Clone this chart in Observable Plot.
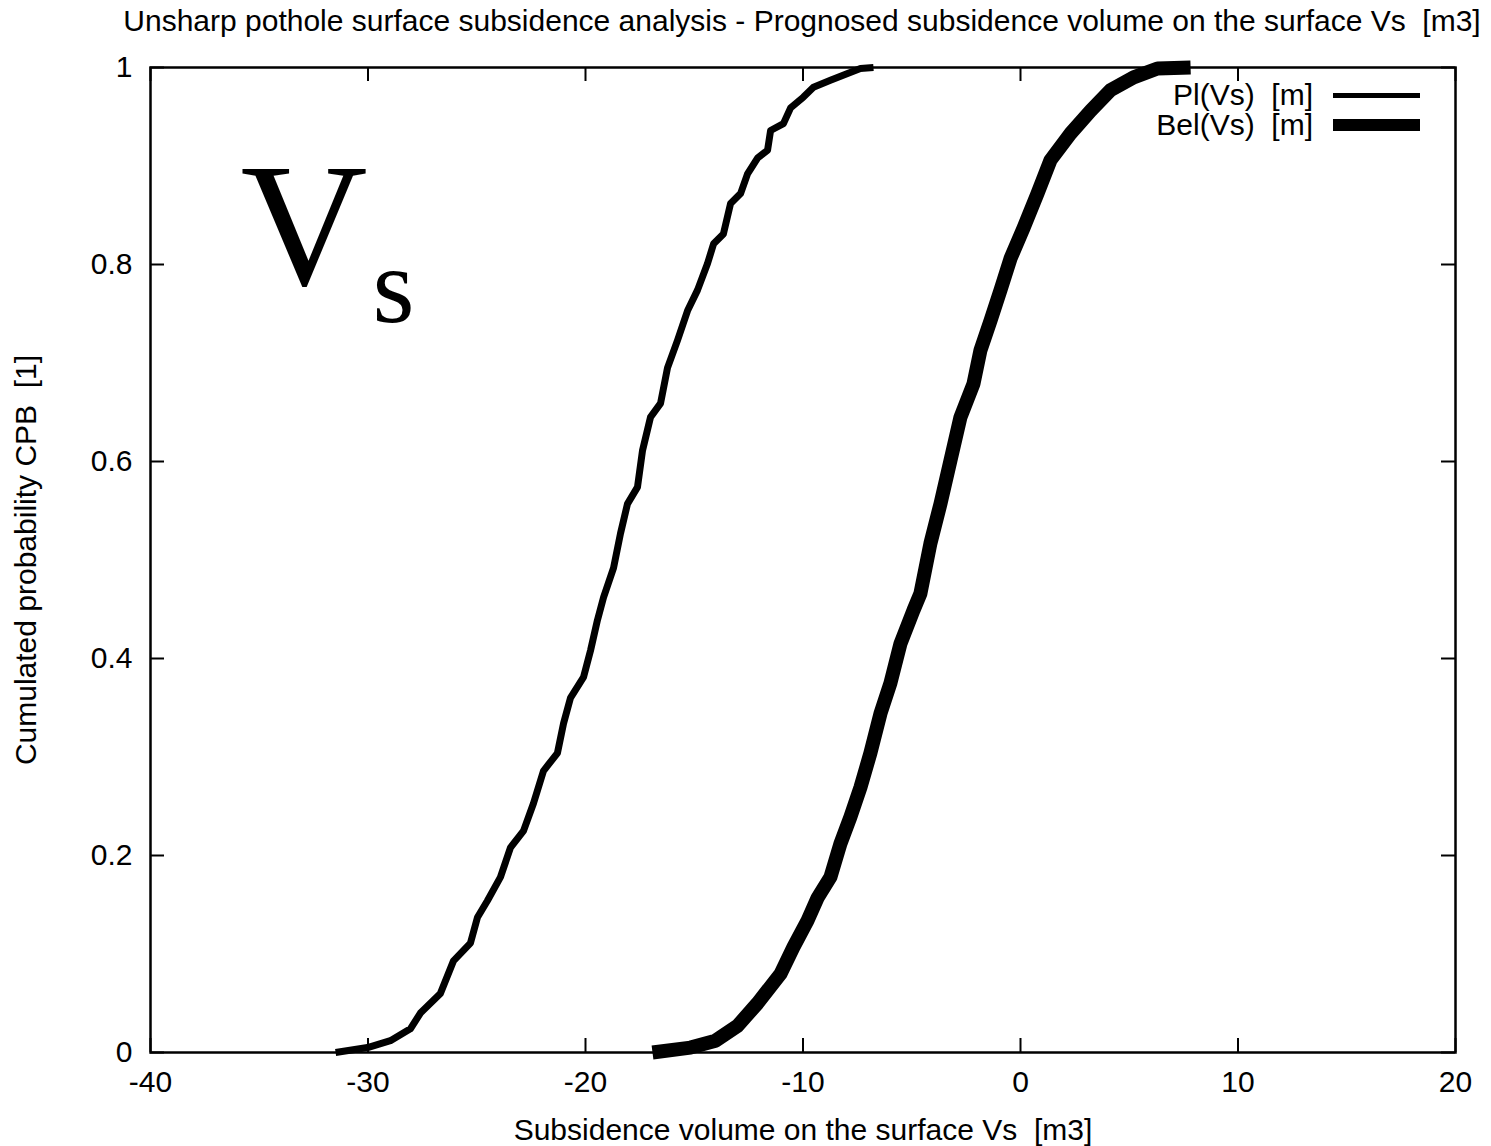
<!DOCTYPE html>
<html>
<head>
<meta charset="utf-8">
<script src="https://cdn.jsdelivr.net/npm/d3@7"></script>
<script src="https://cdn.jsdelivr.net/npm/@observablehq/plot@0.6"></script>
<style>
  html, body { margin: 0; padding: 0; background: #fff; }
  #wrap { position: relative; width: 1491px; height: 1146px; font-family: "Liberation Sans", Arial, sans-serif; color: #000; }
  #title { position: absolute; left: 802px; top: 6px; transform: translateX(-50%); white-space: pre; font-size: 30px; line-height: 30px; }
  #legend { position: absolute; top: 80px; right: 71px; font-size: 30px; }
  .row { display: flex; align-items: center; justify-content: flex-end; height: 30px; }
  .row span { white-space: pre; line-height: 30px; }
  .sw { width: 87px; margin-left: 20px; background: #000; }
</style>
</head>
<body>
<div id="wrap">
  <div id="chart"></div>
  <div id="title"></div>
  <div id="legend"></div>
</div>
<script>
// ---- data ----
const titleText = "Unsharp pothole surface subsidence analysis - Prognosed subsidence volume on the surface Vs  [m3]";
const xLabel = "Subsidence volume on the surface Vs  [m3]";
const yLabel = "Cumulated probability CPB  [1]";
const seriesNames = ["Pl(Vs)  [m]", "Bel(Vs)  [m]"];
const xTicks = [-40, -30, -20, -10, 0, 10, 20];
const yTicks = [0, 0.2, 0.4, 0.6, 0.8, 1];

// Pl(Vs) cumulative curve
const plX = [-31.49, -30.02, -28.97, -28.05, -27.59, -26.67, -26.07, -25.29, -24.97, -24.51, -23.91, -23.45, -22.85, -22.39, -21.93, -21.29, -21.01, -20.69, -20.09, -19.77, -19.45, -19.17, -18.71, -18.39, -18.07, -17.61, -17.38, -17.01, -16.55, -16.23, -15.77, -15.31, -14.85, -14.39, -14.11, -13.66, -13.33, -12.87, -12.55, -12.09, -11.63, -11.49, -10.90, -10.57, -9.98, -9.52, -8.74, -7.95, -7.36, -6.76];
const plP = [0, 0.005, 0.012, 0.024, 0.040, 0.060, 0.093, 0.111, 0.137, 0.154, 0.178, 0.208, 0.225, 0.253, 0.286, 0.304, 0.334, 0.360, 0.381, 0.408, 0.439, 0.462, 0.492, 0.527, 0.557, 0.574, 0.611, 0.645, 0.659, 0.695, 0.723, 0.753, 0.774, 0.801, 0.821, 0.831, 0.862, 0.872, 0.892, 0.908, 0.916, 0.936, 0.943, 0.959, 0.970, 0.980, 0.987, 0.994, 0.999, 1.0];

// Bel(Vs) cumulative curve
const belX = [-16.92, -15.17, -14.02, -13.01, -12.09, -11.03, -10.44, -9.79, -9.33, -8.74, -8.28, -7.82, -7.36, -6.90, -6.44, -5.98, -5.52, -4.92, -4.60, -4.14, -3.68, -3.22, -2.76, -2.16, -1.84, -1.38, -0.92, -0.46, 0.14, 0.78, 1.38, 2.30, 3.22, 4.14, 5.20, 6.30, 7.82];
const belP = [0, 0.005, 0.012, 0.027, 0.050, 0.080, 0.107, 0.134, 0.157, 0.178, 0.212, 0.239, 0.269, 0.304, 0.344, 0.375, 0.415, 0.449, 0.466, 0.517, 0.557, 0.601, 0.645, 0.679, 0.713, 0.743, 0.774, 0.806, 0.837, 0.872, 0.906, 0.933, 0.956, 0.977, 0.990, 0.999, 1.0];

const plData = plX.map((x, i) => ({x, p: plP[i]}));
const belData = belX.map((x, i) => ({x, p: belP[i]}));

const W = 1491, H = 1146, mL = 150, mR = 36, mT = 67, mB = 94;
const fw = W - mL - mR, fh = H - mT - mB, tl = 14;

const chart = Plot.plot({
  width: W, height: H,
  marginLeft: mL, marginRight: mR, marginTop: mT, marginBottom: mB,
  style: {fontFamily: "Liberation Sans, Arial, sans-serif", fontSize: "30px", color: "#000", background: "#fff"},
  x: {domain: [-40, 20]},
  y: {domain: [0, 1]},
  marks: [
    Plot.axisX(xTicks, {tickSize: 0, tickPadding: 18, tickFormat: d => String(d), label: xLabel, labelAnchor: "center", labelArrow: "none", labelOffset: 87}),
    Plot.axisY(yTicks, {tickSize: 0, tickPadding: 18, tickFormat: d => String(d), label: yLabel, labelAnchor: "center", labelArrow: "none", labelOffset: 136}),
    Plot.tickX(xTicks, {x: d => d, insetTop: fh - tl, stroke: "#000", strokeWidth: 2}),
    Plot.tickX(xTicks, {x: d => d, insetBottom: fh - tl, stroke: "#000", strokeWidth: 2}),
    Plot.tickY(yTicks, {y: d => d, insetRight: fw - tl, stroke: "#000", strokeWidth: 2}),
    Plot.tickY(yTicks, {y: d => d, insetLeft: fw - tl, stroke: "#000", strokeWidth: 2}),
    Plot.line(plData, {x: "x", y: "p", stroke: "#000", strokeWidth: 7, strokeLinecap: "butt", strokeLinejoin: "round"}),
    Plot.line(belData, {x: "x", y: "p", stroke: "#000", strokeWidth: 14, strokeLinecap: "butt", strokeLinejoin: "round"}),
    Plot.frame({stroke: "#000", strokeWidth: 2.5}),
    Plot.text(["V"], {text: d => d, frameAnchor: "top-left", dx: 90, dy: 216, lineAnchor: "bottom", textAnchor: "start", fontFamily: "Liberation Serif, Times New Roman, serif", fontSize: 176, fill: "#000"}),
    Plot.text(["s"], {text: d => d, frameAnchor: "top-left", dx: 222, dy: 254, lineAnchor: "bottom", textAnchor: "start", fontFamily: "Liberation Serif, Times New Roman, serif", fontSize: 108, fill: "#000"})
  ]
});
document.getElementById("chart").appendChild(chart);

document.getElementById("title").textContent = titleText;

const legend = document.getElementById("legend");
const widths = [5, 12];
seriesNames.forEach((name, i) => {
  const row = document.createElement("div");
  row.className = "row";
  const t = document.createElement("span");
  t.textContent = name;
  const sw = document.createElement("div");
  sw.className = "sw";
  sw.style.height = widths[i] + "px";
  row.appendChild(t);
  row.appendChild(sw);
  legend.appendChild(row);
});
</script>
</body>
</html>
